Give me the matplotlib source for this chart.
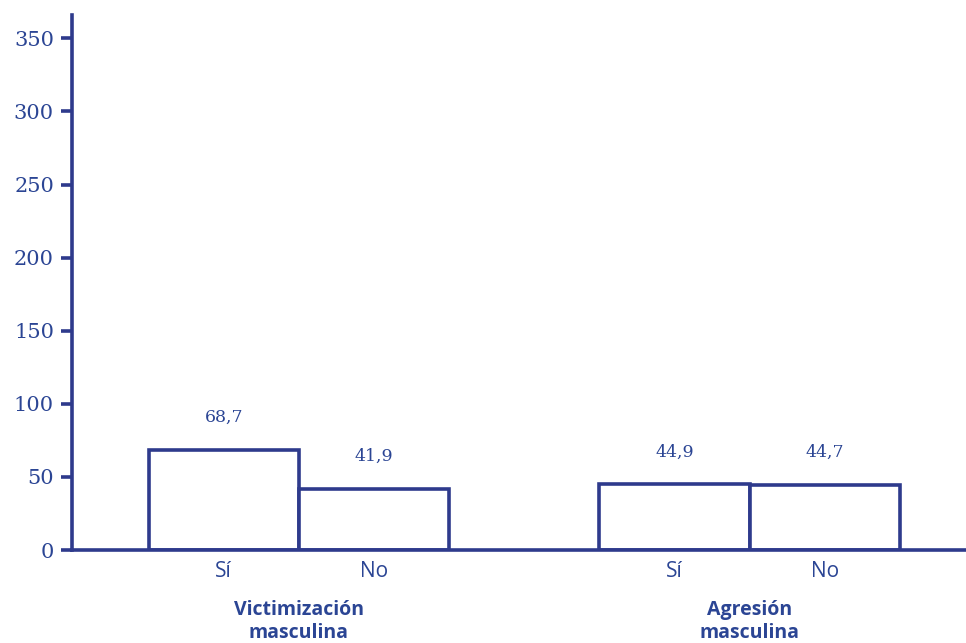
import matplotlib
matplotlib.use("Agg")
import matplotlib.pyplot as plt

groups = ["Victimización\nmasculina", "Agresión\nmasculina"]
categories = ["Sí", "No", "Sí", "No"]
values = [68.7, 41.9, 44.9, 44.7]
value_labels = ["68,7", "41,9", "44,9", "44,7"]
positions = [1, 2, 4, 5]
yticks = [0, 50, 100, 150, 200, 250, 300, 350]

line_c = "#2e3a8c"
text_c = "#2b4594"

fig = plt.figure(figsize=(9.66, 6.43), dpi=100)
ax = fig.add_axes([72/966, 1 - 550/643, 1 - 72/966, (550 - 15)/643])

ax.bar(positions, values, width=1.0, facecolor="white", edgecolor=line_c,
       linewidth=2.6, zorder=3)

for x, v, lab in zip(positions, values, value_labels):
    ax.annotate(lab, (x, v), xytext=(0, 23), textcoords="offset points",
                ha="center", va="center", fontsize=12.5, color=text_c,
                family="DejaVu Serif")

ax.set_xlim(-0.01, 5.94)
ax.set_ylim(0, 366)
ax.set_yticks(yticks)
ax.set_yticklabels([str(t) for t in yticks], family="DejaVu Serif",
                   fontsize=15, color=text_c)
ax.set_xticks(positions)
ax.set_xticklabels(categories, family="Open Sans", fontsize=15, color=text_c)
ax.tick_params(axis="x", length=0, pad=8)
ax.tick_params(axis="y", length=8, width=2.6, color=line_c, pad=5)

for s in ["top", "right"]:
    ax.spines[s].set_visible(False)
for s in ["left", "bottom"]:
    ax.spines[s].set_color(line_c)
    ax.spines[s].set_linewidth(2.6)
ax.spines["bottom"].set_zorder(4)

group_centers = [1.5, 4.5]
for gx, g in zip(group_centers, groups):
    ax.annotate(g, (gx, 0), xycoords=("data", "axes fraction"),
                xytext=(0, -36), textcoords="offset points",
                ha="center", va="top", fontsize=14, fontweight="bold",
                family="Open Sans", color=text_c, linespacing=1.2)

fig.savefig("out.png", dpi=100)
